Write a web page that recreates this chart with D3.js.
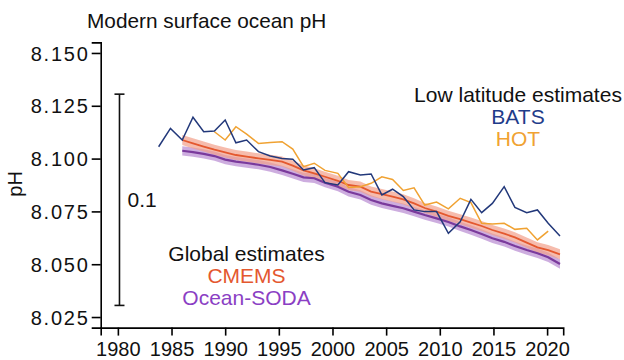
<!DOCTYPE html>
<html>
<head>
<meta charset="utf-8">
<script src="https://cdn.jsdelivr.net/npm/d3@7"></script>
<style>
  html, body { margin: 0; padding: 0; background: #fff; }
  svg { display: block; font-family: "Liberation Sans", Arial, Helvetica, sans-serif; }
</style>
</head>
<body>
<svg id="chart" width="624" height="360"></svg>
<script>
// Annual time grid shared by the BATS record (decimal years)
const batsYears = [1983.8, 1984.9, 1986.0, 1987.0, 1988.0, 1989.0, 1990.0, 1991.0, 1992.0, 1993.1,
  1994.2, 1995.3, 1996.3, 1997.3, 1998.3, 1999.3, 2000.5, 2001.5, 2002.6, 2003.6,
  2004.6, 2005.6, 2006.6, 2007.6, 2008.6, 2009.7, 2010.8, 2011.9, 2012.9, 2013.9,
  2014.9, 2016.0, 2017.0, 2018.1, 2019.1, 2020.1, 2021.2];
const batsPH = [8.1056, 8.1143, 8.1088, 8.1196, 8.1127, 8.1131, 8.1183, 8.1075, 8.1088, 8.1033,
  8.1012, 8.1001, 8.0997, 8.0946, 8.0957, 8.0886, 8.0875, 8.0938, 8.0922, 8.0927,
  8.0828, 8.0855, 8.0820, 8.0757, 8.0749, 8.0749, 8.0646, 8.0701, 8.0807, 8.0744,
  8.0788, 8.0867, 8.0769, 8.0744, 8.0757, 8.0694, 8.0634];

const hotYears = [1989.0, 1990.0, 1991.0, 1992.0, 1993.1, 1994.2, 1995.3, 1996.3, 1997.3, 1998.3,
  1999.3, 2000.5, 2001.5, 2002.6, 2003.6, 2004.6, 2005.6, 2006.6, 2007.6, 2008.6,
  2009.7, 2010.8, 2011.9, 2012.9, 2013.9, 2014.9, 2016.0, 2017.0, 2018.1, 2019.1, 2020.1];
const hotPH = [8.1127, 8.1088, 8.1151, 8.1116, 8.1072, 8.1076, 8.1080, 8.1045, 8.0962, 8.0978,
  8.0944, 8.0930, 8.0863, 8.0867, 8.0883, 8.0914, 8.0901, 8.0849, 8.0862, 8.0780,
  8.0794, 8.0762, 8.0812, 8.0792, 8.0694, 8.0690, 8.0694, 8.0665, 8.0670, 8.0615, 8.0657];

// Global products share one grid
const globalYears = [1986.0, 1987.0, 1988.0, 1989.0, 1990.0, 1991.0, 1992.0, 1993.1, 1994.2, 1995.3,
  1996.3, 1997.3, 1998.3, 1999.3, 2000.5, 2001.5, 2002.6, 2003.6, 2004.6, 2005.6,
  2006.6, 2007.6, 2008.6, 2009.7, 2010.8, 2011.9, 2012.9, 2013.9, 2014.9, 2016.0,
  2017.0, 2018.1, 2019.1, 2020.1, 2021.2];
const cmemsPH = [8.1088, 8.1072, 8.1057, 8.1042, 8.1029, 8.1017, 8.1009, 8.1001, 8.0994, 8.0986,
  8.0967, 8.0944, 8.0930, 8.0914, 8.0895, 8.0875, 8.0867, 8.0844, 8.0832, 8.0820,
  8.0807, 8.0788, 8.0766, 8.0749, 8.0729, 8.0713, 8.0697, 8.0681, 8.0662, 8.0645,
  8.0627, 8.0602, 8.0580, 8.0567, 8.0547];
const sodaPH = [8.1037, 8.1031, 8.1022, 8.1012, 8.0995, 8.0986, 8.0979, 8.0971, 8.0960, 8.0944,
  8.0928, 8.0911, 8.0907, 8.0886, 8.0867, 8.0843, 8.0828, 8.0804, 8.0788, 8.0776,
  8.0765, 8.0749, 8.0733, 8.0717, 8.0700, 8.0679, 8.0662, 8.0643, 8.0623, 8.0606,
  8.0586, 8.0567, 8.0552, 8.0533, 8.0501];
const cmemsUncert = 0.0024;
const sodaUncert = 0.0022;

const xTicks = [1980, 1985, 1990, 1995, 2000, 2005, 2010, 2015, 2020];
const yTicks = [8.025, 8.050, 8.075, 8.100, 8.125, 8.150];

// Vertical scale bar spanning 0.1 pH units
const scaleBarYear = 1980.15;
const scaleBarTop = 8.1305;
const scaleBarBottom = 8.0305;
const scaleBarLabel = "0.1";

const colors = {
  bats: "#22387a",
  hot: "#f0a232",
  cmems: "#e4582f",
  cmemsBand: "#f2a08a",
  soda: "#7a3a9c",
  sodaBand: "#b88ad2",
  sodaText: "#8b3fc4"
};

const svg = d3.select("#chart");
const x = d3.scaleLinear().domain([1978.4, 2021.5]).range([100.7, 563.2]);
const y = d3.scaleLinear().domain([8.02, 8.155]).range([327.6, 42.4]);

const font = 20;

// Axes
const xAxis = svg.append("g")
  .attr("transform", `translate(0,${y(8.02)})`)
  .call(d3.axisBottom(x).tickValues(xTicks).tickFormat(d3.format("d")).tickSize(8).tickPadding(2));
const yAxis = svg.append("g")
  .attr("transform", `translate(${x(1978.4)},0)`)
  .call(d3.axisLeft(y).tickValues(yTicks).tickFormat(d3.format(".3f")).tickSize(9).tickPadding(2));
[xAxis, yAxis].forEach(g => {
  g.select(".domain").attr("stroke", "#000").attr("stroke-width", 1.6);
  g.selectAll(".tick line").attr("stroke", "#000").attr("stroke-width", 1.6);
  g.selectAll(".tick text").attr("fill", "#111").attr("font-size", font)
    .attr("font-family", "Liberation Sans, Arial, sans-serif");
});
xAxis.selectAll(".tick text").attr("dy", "0.9em");
yAxis.selectAll(".tick text").attr("letter-spacing", "1.8px").attr("dy", "0.36em");

// Axis label
svg.append("text")
  .attr("transform", `translate(22,${y(8.088)}) rotate(-90)`)
  .attr("text-anchor", "middle")
  .attr("font-size", font)
  .attr("fill", "#111")
  .text("pH");

// Title
svg.append("text")
  .attr("x", 87).attr("y", 28)
  .attr("font-size", 20.8)
  .attr("fill", "#111")
  .text("Modern surface ocean pH");

// Scale bar
const sb = svg.append("g").attr("stroke", "#111").attr("stroke-width", 1.6);
const sbx = x(scaleBarYear);
sb.append("line").attr("x1", sbx).attr("x2", sbx).attr("y1", y(scaleBarTop)).attr("y2", y(scaleBarBottom));
sb.append("line").attr("x1", sbx - 5).attr("x2", sbx + 5).attr("y1", y(scaleBarTop)).attr("y2", y(scaleBarTop));
sb.append("line").attr("x1", sbx - 5).attr("x2", sbx + 5).attr("y1", y(scaleBarBottom)).attr("y2", y(scaleBarBottom));
svg.append("text")
  .attr("x", sbx + 8).attr("y", y((scaleBarTop + scaleBarBottom) / 2) + 7)
  .attr("font-size", 21)
  .attr("fill", "#111")
  .text(scaleBarLabel);

// Series helpers
const zip = (xs, ys) => xs.map((d, i) => ({ t: d, v: ys[i] }));
const line = d3.line().x(d => x(d.t)).y(d => y(d.v));
const band = err => d3.area().x(d => x(d.t)).y0(d => y(d.v - err)).y1(d => y(d.v + err));

const soda = zip(globalYears, sodaPH);
const cmems = zip(globalYears, cmemsPH);
const bats = zip(batsYears, batsPH);
const hot = zip(hotYears, hotPH);

svg.append("path").datum(soda).attr("d", band(sodaUncert)).attr("fill", colors.sodaBand).attr("opacity", 0.7);
svg.append("path").datum(cmems).attr("d", band(cmemsUncert)).attr("fill", colors.cmemsBand).attr("opacity", 0.7);
svg.append("path").datum(soda).attr("d", line).attr("fill", "none").attr("stroke", colors.soda).attr("stroke-width", 2.2);
svg.append("path").datum(cmems).attr("d", line).attr("fill", "none").attr("stroke", colors.cmems).attr("stroke-width", 1.8);
svg.append("path").datum(hot).attr("d", line).attr("fill", "none").attr("stroke", colors.hot).attr("stroke-width", 1.5);
svg.append("path").datum(bats).attr("d", line).attr("fill", "none").attr("stroke", colors.bats).attr("stroke-width", 1.5);

// Legends
const legendLow = [
  { text: "Low latitude estimates", color: "#111" },
  { text: "BATS", color: "#1f3c8a" },
  { text: "HOT", color: colors.hot }
];
svg.append("g").selectAll("text").data(legendLow).join("text")
  .attr("x", 518).attr("y", (d, i) => 101.5 + i * 22)
  .attr("text-anchor", "middle").attr("font-size", 21)
  .attr("fill", d => d.color).text(d => d.text);

const legendGlobal = [
  { text: "Global estimates", color: "#111" },
  { text: "CMEMS", color: colors.cmems },
  { text: "Ocean-SODA", color: colors.sodaText }
];
svg.append("g").selectAll("text").data(legendGlobal).join("text")
  .attr("x", 246.5).attr("y", (d, i) => 261 + i * 22)
  .attr("text-anchor", "middle").attr("font-size", 21)
  .attr("fill", d => d.color).text(d => d.text);
</script>
</body>
</html>
